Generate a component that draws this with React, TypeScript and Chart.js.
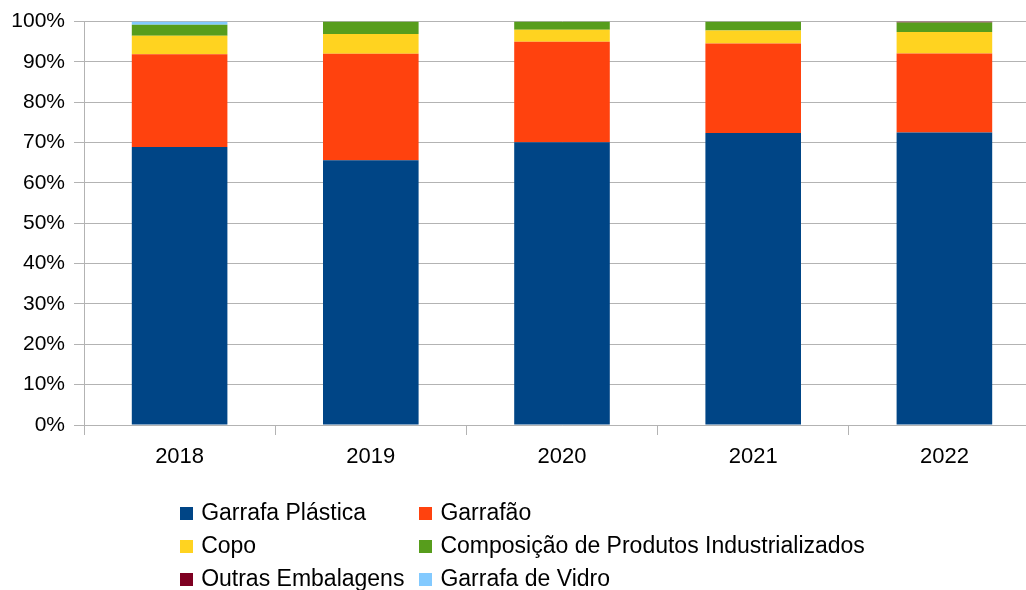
import React, { useEffect, useRef } from "react";
import { Chart, registerables } from "chart.js";

Chart.register(...registerables);

const categories = ["2018", "2019", "2020", "2021", "2022"];
const seriesNames = [
  "Garrafa Plástica",
  "Garrafão",
  "Copo",
  "Composição de Produtos Industrializados",
  "Outras Embalagens",
  "Garrafa de Vidro",
];
const garrafaPlastica = [68.9, 65.6, 70.1, 72.4, 72.5];
const garrafao = [23.0, 26.4, 24.9, 22.15, 19.6];
const copo = [4.6, 4.95, 3.0, 3.25, 5.3];
const composicao = [2.75, 3.05, 2.0, 2.2, 2.4];
const outras = [0, 0, 0, 0, 0.2];
const vidro = [0.75, 0, 0, 0, 0];
const yTickValues = [0, 10, 20, 30, 40, 50, 60, 70, 80, 90, 100];

const seriesValues = [garrafaPlastica, garrafao, copo, composicao, outras, vidro];
const seriesColors = ["#004586", "#ff420e", "#ffd320", "#579d1c", "#7e0021", "#83caff"];

const FONT = '"Liberation Sans", Arial, sans-serif';

const gridLegend = {
  id: "gridLegend",
  afterDraw(chart: any) {
    const ctx = chart.ctx as CanvasRenderingContext2D;
    const ds = chart.data.datasets;
    ctx.save();
    ctx.font = `23px ${FONT}`;
    const box = 13;
    const gap = 8;
    const colGap = 15;
    const rowH = 33;
    const colW = [0, 1].map((c) =>
      Math.max(
        ...ds.filter((_: any, i: number) => i % 2 === c).map((d: any) => ctx.measureText(d.label).width)
      )
    );
    const total = box + gap + colW[0] + colGap + box + gap + colW[1];
    const x0 = (chart.width - total) / 2;
    const xs = [x0, x0 + box + gap + colW[0] + colGap];
    const y0 = chart.chartArea.bottom + 88;
    ds.forEach((d: any, i: number) => {
      const c = i % 2;
      const r = Math.floor(i / 2);
      const x = xs[c];
      const y = y0 + r * rowH;
      ctx.fillStyle = d.backgroundColor;
      ctx.fillRect(Math.round(x), Math.round(y - box / 2), box, box);
      ctx.fillStyle = "#000";
      ctx.textBaseline = "middle";
      ctx.textAlign = "left";
      ctx.fillText(d.label, x + box + gap, y + 1);
    });
    ctx.restore();
  },
};

export default function App() {
  const ref = useRef<HTMLCanvasElement | null>(null);

  useEffect(() => {
    if (!ref.current) return;
    const chart = new Chart(ref.current, {
      type: "bar",
      data: {
        labels: categories,
        datasets: seriesNames.map((name, i) => ({
          label: name,
          data: seriesValues[i],
          backgroundColor: seriesColors[i],
          borderWidth: 0,
          barPercentage: 1,
          categoryPercentage: 0.5,
        })),
      },
      options: {
        responsive: false,
        animation: false,
        layout: { padding: { left: 0, right: 5, top: 21, bottom: 135 } },
        plugins: {
          legend: { display: false },
          tooltip: { enabled: false },
        },
        scales: {
          x: {
            stacked: true,
            grid: {
              display: true,
              drawOnChartArea: false,
              drawTicks: true,
              tickLength: 10,
              color: "#b3b3b3",
              offset: true,
            },
            border: { display: true, color: "#b3b3b3" },
            ticks: {
              color: "#000",
              font: { family: FONT, size: 22 },
              padding: 9,
              maxRotation: 0,
            },
            afterFit: (s: any) => {
              s.height = 40;
            },
          },
          y: {
            stacked: true,
            min: 0,
            max: 100,
            afterBuildTicks: (s: any) => {
              s.ticks = yTickValues.map((v) => ({ value: v }));
            },
            grid: {
              color: "#b3b3b3",
              tickLength: 10,
              drawTicks: true,
            },
            border: { display: true, color: "#b3b3b3" },
            ticks: {
              color: "#000",
              font: { family: FONT, size: 21 },
              padding: 9,
              callback: (v: any) => `${v}%`,
            },
            afterFit: (s: any) => {
              s.width = 84;
            },
          },
        },
      },
      plugins: [gridLegend],
    });
    return () => chart.destroy();
  }, []);

  return (
    <div
      style={{
        position: "fixed",
        left: 0,
        top: 0,
        width: 1026,
        height: 590,
        overflow: "hidden",
        background: "#fff",
      }}
    >
      <canvas ref={ref} width={1045} height={600} />
    </div>
  );
}
